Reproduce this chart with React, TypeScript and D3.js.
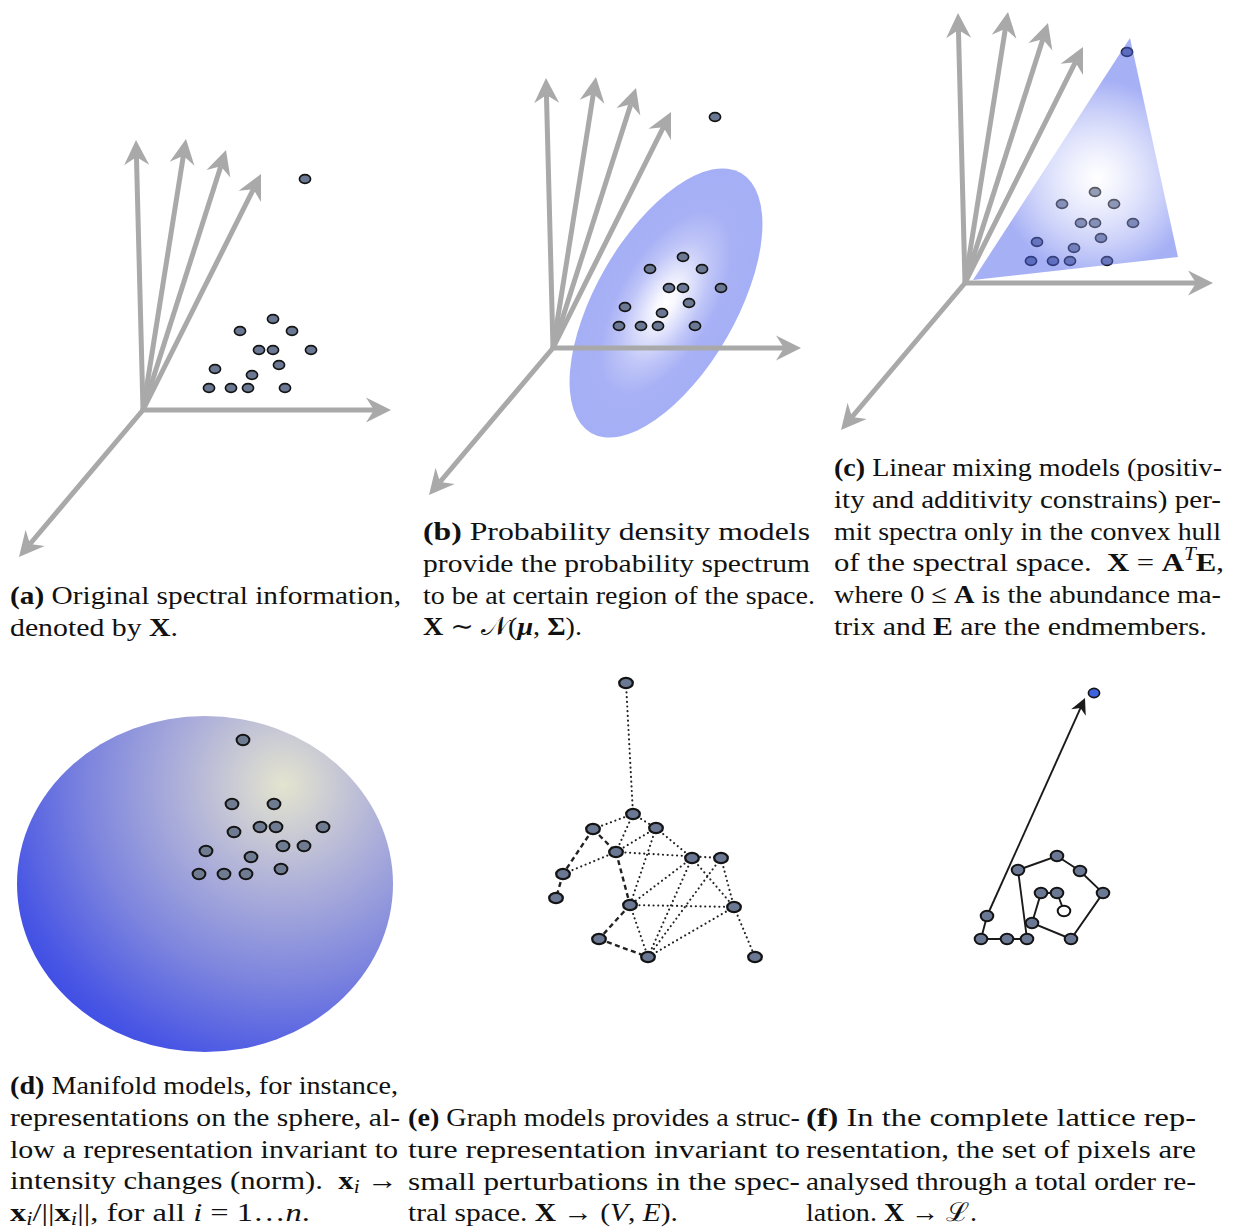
import React, { useEffect, useRef } from "react";
import * as d3 from "d3";

// ---------- data ----------
// spectral pixel cloud, relative to the origin of the spectral axes (u to the right, v downward)
const spectra: [number, number][] = [
  [162, -231], [130, -91], [97, -79], [149, -79], [116, -60], [130, -60], [168, -60],
  [136, -45], [72, -41], [109, -35], [66, -22], [88, -22], [105, -22], [142, -22],
];
// band axes (spectral space basis), relative to the origin
const axisVectors: [number, number][] = [
  [-7, -270], [43, -271], [83, -260], [118, -236], [248, 0], [-124, 147],
];
// convex hull (endmember simplex) of panel (c), relative to the origin
const hullVertices: [number, number][] = [[8, -3], [165, -245], [213, -26]];
// gaussian density ellipse of panel (b): centre, semi axes, rotation
const densityEllipse = { cu: 113, cv: -45, a: 70, b: 150, angle: 30 };

// manifold (sphere) pixels, relative to the sphere centre
const sphereNodes: [number, number][] = [
  [38, -144], [27, -80], [69, -80], [55, -57], [71, -57], [118, -57], [29, -52],
  [78, -38], [99, -38], [1, -33], [46, -27], [76, -15], [-6, -10], [19, -10], [41, -10],
];

// graph model nodes and edges
const graphNodes: [number, number][] = [
  [96, 23], [103, 154], [63, 169], [126, 168], [86, 192], [162, 198], [191, 198],
  [33, 214], [26, 238], [100, 245], [204, 247], [69, 279], [118, 297], [225, 297],
];
const graphDotted: [number, number][] = [
  [0, 1], [1, 2], [1, 3], [1, 4], [3, 4], [3, 5], [4, 6], [4, 7], [5, 10], [6, 10],
  [5, 9], [3, 9], [5, 12], [6, 12], [9, 10], [9, 12], [10, 12], [10, 13],
];
const graphDashed: [number, number][] = [
  [2, 4], [2, 7], [7, 8], [4, 9], [9, 11], [11, 12],
];

// complete lattice: total order chain from the minimum (white) upward
const latticeChain: [number, number][] = [
  [114, 241], [107, 223], [91, 223], [82, 253], [121, 269], [153, 223], [130, 201],
  [107, 186], [68, 200], [77, 269], [57, 269], [31, 269], [37, 246],
];
const latticeMax: [number, number] = [144, 23];
const latticeArrowTip: [number, number] = [135, 28];

// captions
type Seg = [string, string];
const capA: Seg[][] = [
  [["(a)", "b"], [" Original spectral information,", "r"]],
  [["denoted by ", "r"], ["X", "b"], [".", "r"]],
];
const capB: Seg[][] = [
  [["(b)", "b"], [" Probability density models", "r"]],
  [["provide the probability spectrum", "r"]],
  [["to be at certain region of the space.", "r"]],
  [["X", "b"], [" ∼ ", "r"], ["𝒩", "r"], ["(", "r"], ["μ", "bi"], [", ", "r"], ["Σ", "b"], [").", "r"]],
];
const capC: Seg[][] = [
  [["(c)", "b"], [" Linear mixing models (positiv-", "r"]],
  [["ity and additivity constrains) per-", "r"]],
  [["mit spectra only in the convex hull", "r"]],
  [["of the spectral space.  ", "r"], ["X", "b"], [" = ", "r"], ["A", "b"], ["T", "sup"], ["E", "b"], [",", "r"]],
  [["where 0 ≤ ", "r"], ["A", "b"], [" is the abundance ma-", "r"]],
  [["trix and ", "r"], ["E", "b"], [" are the endmembers.", "r"]],
];
const capD: Seg[][] = [
  [["(d)", "b"], [" Manifold models, for instance,", "r"]],
  [["representations on the sphere, al-", "r"]],
  [["low a representation invariant to", "r"]],
  [["intensity changes (norm).  ", "r"], ["x", "b"], ["i", "sub"], [" →", "r"]],
  [["x", "b"], ["i", "sub"], ["/||", "r"], ["x", "b"], ["i", "sub"], ["||, for all ", "r"], ["i", "i"], [" = 1…", "r"], ["n", "i"], [".", "r"]],
];
const capE: Seg[][] = [
  [["(e)", "b"], [" Graph models provides a struc-", "r"]],
  [["ture representation invariant to", "r"]],
  [["small perturbations in the spec-", "r"]],
  [["tral space. ", "r"], ["X", "b"], [" → (", "r"], ["V", "i"], [", ", "r"], ["E", "i"], [").", "r"]],
];
const capF: Seg[][] = [
  [["(f)", "b"], [" In the complete lattice rep-", "r"]],
  [["resentation, the set of pixels are", "r"]],
  [["analysed through a total order re-", "r"]],
  [["lation. ", "r"], ["X", "b"], [" → ", "r"], ["ℒ", "r"], [".", "r"]],
];

// ---------- layout ----------
const W = 1234;
const H = 1229;
const captionLayout = [
  { lines: capA, x: 10, y0: 604, widths: [391, 168] },
  { lines: capB, x: 423, y0: 540, widths: [387, 387, 392, 159] },
  { lines: capC, x: 834, y0: 476, widths: [388, 387, 387, 390, 387, 373] },
  { lines: capD, x: 10, y0: 1094, widths: [388, 390, 388, 388, 300] },
  { lines: capE, x: 408, y0: 1126, widths: [392, 392, 392, 270] },
  { lines: capF, x: 806, y0: 1126, widths: [390, 390, 390, 171] },
];
const LINE_H = 31.8;
const FONT = "'Liberation Serif', 'DejaVu Serif', serif";
const GRAY = "#a9a9a9";
const NODE_FILL = "#6b7893";

export default function App() {
  const ref = useRef<SVGSVGElement | null>(null);

  useEffect(() => {
    const svg = d3.select(ref.current);
    svg.selectAll("*").remove();
    const defs = svg.append("defs");

    // gradients
    const gB = defs.append("radialGradient").attr("id", "gradB").attr("cx", "0.5").attr("cy", "0.5").attr("r", "0.5");
    [[0, "#ffffff"], [0.12, "#f6f6fe"], [0.45, "#c0c6f8"], [0.68, "#a8b1f5"], [1, "#a5aff5"]].forEach(([o, c]) =>
      gB.append("stop").attr("offset", o as number).attr("stop-color", c as string));

    const gC = defs.append("radialGradient").attr("id", "gradC").attr("gradientUnits", "userSpaceOnUse")
      .attr("cx", 1097).attr("cy", 178).attr("r", 140);
    gC.append("stop").attr("offset", 0).attr("stop-color", "#ffffff").attr("stop-opacity", 0.3);
    gC.append("stop").attr("offset", 0.7).attr("stop-color", "#4d61eb").attr("stop-opacity", 0.5);
    gC.append("stop").attr("offset", 1).attr("stop-color", "#4d61eb").attr("stop-opacity", 0.5);

    const gD = defs.append("radialGradient").attr("id", "gradD").attr("gradientUnits", "userSpaceOnUse")
      .attr("cx", 283).attr("cy", 785).attr("r", 330);
    [[0, "#e4e4cf"], [0.3, "#b0b2d9"], [0.6, "#7c84de"], [0.85, "#4b58e4"], [1, "#3444e6"]].forEach(([o, c]) =>
      gD.append("stop").attr("offset", o as number).attr("stop-color", c as string));

    const drawNode = (g: any, x: number, y: number, rx: number, ry: number, fill: string, sw: number) => {
      g.append("ellipse").attr("cx", x).attr("cy", y).attr("rx", rx).attr("ry", ry)
        .attr("fill", fill).attr("stroke", "#141414").attr("stroke-width", sw);
    };

    const grayArrow = (g: any, x0: number, y0: number, x1: number, y1: number) => {
      const dx = x1 - x0, dy = y1 - y0, L = Math.hypot(dx, dy), ux = dx / L, uy = dy / L;
      g.append("line").attr("x1", x0).attr("y1", y0).attr("x2", x1 - ux * 17).attr("y2", y1 - uy * 17)
        .attr("stroke", GRAY).attr("stroke-width", 5);
      const ang = (Math.atan2(dy, dx) * 180) / Math.PI;
      g.append("path").attr("d", "M0,0 L-25,-12.5 L-17,0 L-25,12.5 Z")
        .attr("transform", `translate(${x1},${y1}) rotate(${ang})`).attr("fill", GRAY);
    };

    // ---- panels a, b, c: spectral space ----
    const origins: [number, number][] = [[143, 410], [553, 348], [965, 283]];
    origins.forEach(([ox, oy], idx) => {
      const xs = d3.scaleLinear().domain([0, 100]).range([ox, ox + 100]);
      const ys = d3.scaleLinear().domain([0, 100]).range([oy, oy + 100]);
      const g = svg.append("g");
      if (idx === 1) {
        const e = densityEllipse;
        g.append("ellipse").attr("cx", 0).attr("cy", 0).attr("rx", e.a).attr("ry", e.b)
          .attr("transform", `translate(${xs(e.cu)},${ys(e.cv)}) rotate(${e.angle})`)
          .attr("fill", "url(#gradB)");
      }
      axisVectors.forEach(([u, v]) => grayArrow(g, xs(0), ys(0), xs(u), ys(v)));
      spectra.forEach(([u, v]) => drawNode(g, xs(u), ys(v), 5.6, 4.4, NODE_FILL, 1.6));
      if (idx === 2) {
        const line = d3.line<[number, number]>().x((d) => xs(d[0])).y((d) => ys(d[1]));
        g.append("path").attr("d", line(hullVertices) + "Z").attr("fill", "url(#gradC)");
      }
    });

    // ---- panel d: sphere ----
    {
      const xs = d3.scaleLinear().domain([0, 100]).range([205, 305]);
      const ys = d3.scaleLinear().domain([0, 100]).range([884, 984]);
      const g = svg.append("g");
      g.append("ellipse").attr("cx", xs(0)).attr("cy", ys(0)).attr("rx", 188).attr("ry", 168).attr("fill", "url(#gradD)");
      sphereNodes.forEach(([u, v]) => drawNode(g, xs(u), ys(v), 6.4, 5.2, "#6e7b90", 2));
    }

    // ---- panel e: graph ----
    {
      const xs = d3.scaleLinear().domain([0, 100]).range([530, 630]);
      const ys = d3.scaleLinear().domain([0, 100]).range([660, 760]);
      const g = svg.append("g");
      graphDotted.forEach(([a, b]) => {
        g.append("line").attr("x1", xs(graphNodes[a][0])).attr("y1", ys(graphNodes[a][1]))
          .attr("x2", xs(graphNodes[b][0])).attr("y2", ys(graphNodes[b][1]))
          .attr("stroke", "#222").attr("stroke-width", 2.1).attr("stroke-linecap", "round")
          .attr("stroke-dasharray", "0.1 4.6");
      });
      graphDashed.forEach(([a, b]) => {
        g.append("line").attr("x1", xs(graphNodes[a][0])).attr("y1", ys(graphNodes[a][1]))
          .attr("x2", xs(graphNodes[b][0])).attr("y2", ys(graphNodes[b][1]))
          .attr("stroke", "#222").attr("stroke-width", 2.4).attr("stroke-dasharray", "5 3.5");
      });
      graphNodes.forEach(([u, v]) => drawNode(g, xs(u), ys(v), 6.8, 5.2, NODE_FILL, 2.3));
    }

    // ---- panel f: lattice ----
    {
      const xs = d3.scaleLinear().domain([0, 100]).range([950, 1050]);
      const ys = d3.scaleLinear().domain([0, 100]).range([670, 770]);
      const g = svg.append("g");
      const line = d3.line<[number, number]>().x((d) => xs(d[0])).y((d) => ys(d[1]));
      g.append("path").attr("d", line(latticeChain)).attr("fill", "none").attr("stroke", "#1a1a1a").attr("stroke-width", 1.9);
      const last = latticeChain[latticeChain.length - 1];
      const x0 = xs(last[0]), y0 = ys(last[1]), x1 = xs(latticeArrowTip[0]), y1 = ys(latticeArrowTip[1]);
      const L = Math.hypot(x1 - x0, y1 - y0);
      g.append("line").attr("x1", x0).attr("y1", y0).attr("x2", x1 - ((x1 - x0) / L) * 10).attr("y2", y1 - ((y1 - y0) / L) * 10)
        .attr("stroke", "#1a1a1a").attr("stroke-width", 1.9);
      const ang = (Math.atan2(y1 - y0, x1 - x0) * 180) / Math.PI;
      g.append("path").attr("d", "M0,0 L-16,-8 L-11,0 L-16,8 Z")
        .attr("transform", `translate(${x1},${y1}) rotate(${ang})`).attr("fill", "#1a1a1a");
      latticeChain.forEach(([u, v], i) => drawNode(g, xs(u), ys(v), 6.3, 5.3, i === 0 ? "#ffffff" : NODE_FILL, 2));
      drawNode(g, xs(latticeMax[0]), ys(latticeMax[1]), 5.6, 4.6, "#3d63e0", 1.6);
    }

    // ---- captions ----
    captionLayout.forEach(({ lines, x, y0, widths }) => {
      lines.forEach((segs, li) => {
        const t = svg.append("text").attr("x", x).attr("y", y0 + li * LINE_H)
          .attr("font-family", FONT).attr("font-size", 26).attr("fill", "#111")
          .attr("textLength", widths[li]).attr("lengthAdjust", "spacingAndGlyphs")
          .style("white-space", "pre");
        let shift = 0;
        segs.forEach(([txt, st]) => {
          const ts = t.append("tspan").text(txt);
          let target = 0;
          if (st === "b") ts.attr("font-weight", "bold");
          if (st === "i") ts.attr("font-style", "italic");
          if (st === "bi") ts.attr("font-weight", "bold").attr("font-style", "italic");
          if (st === "sub") { ts.attr("font-style", "italic").attr("font-size", 18); target = 4; }
          if (st === "sup") { ts.attr("font-style", "italic").attr("font-size", 18); target = -11; }
          if (target !== shift) { ts.attr("dy", target - shift); shift = target; }
        });
      });
    });
  }, []);

  return (
    <svg ref={ref} width={W} height={H} viewBox={`0 0 ${W} ${H}`}
      style={{ position: "absolute", left: 0, top: 0, background: "#fff" }} />
  );
}
